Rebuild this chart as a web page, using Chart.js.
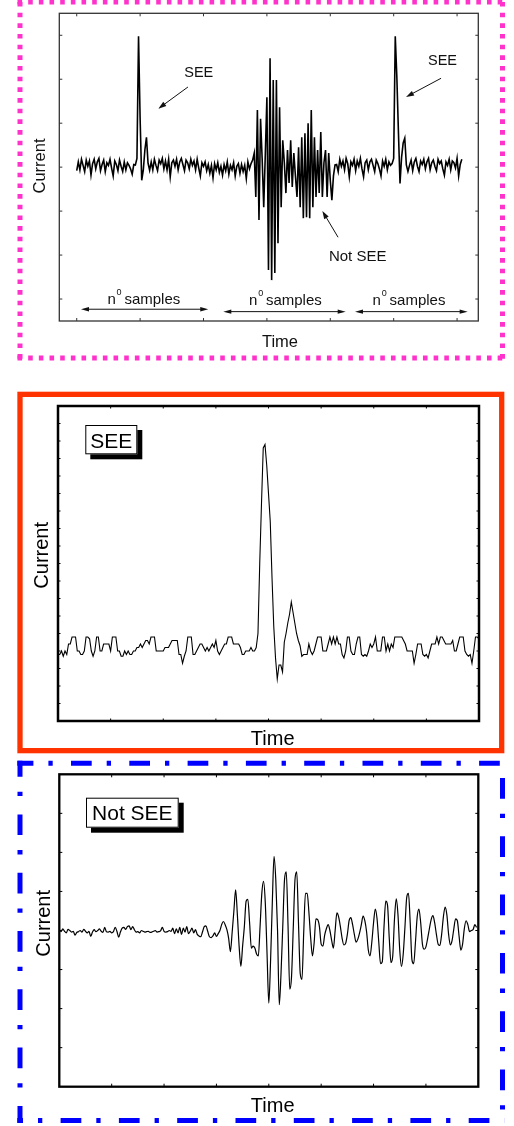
<!DOCTYPE html>
<html><head><meta charset="utf-8">
<script src="https://cdn.jsdelivr.net/npm/chart.js"></script>
<style>
html,body{margin:0;padding:0;background:#fff;}
body{width:514px;height:1126px;position:relative;overflow:hidden;}
canvas{position:absolute;left:0;}
</style></head><body>
<canvas id="c1" width="514" height="372" style="top:0px"></canvas>
<canvas id="c2" width="514" height="384" style="top:372px"></canvas>
<canvas id="c3" width="514" height="370" style="top:756px"></canvas>
<script>
// ================= DATA =================
// Panel 1 (overview trace): baseline = 0, one y tick = 100 units, one x tick = 40 samples
const p1NoiseA = [-8,12,-6,18,4,-10,16,2,14,-18,8,18,-4,12,20,-8,6,16,-10,10,4,18,-2,-20,14,6,-8,16,2,-10,12,-6,10,4,-4,-16,6];
const p1See1 = [5,20,298,110,-30,-7,39,68,9,-7];
const p1NoiseB = [12,-6,18,4,-8,16,8,20,-4,14,-6,18,-22,10,16,2,18,-6,12,20,6,-8,16,10,-4,18,4,14,-6,18,-2,-20,10,2,12,-8,6,-14,4,-24,8,-6,10,-12,2,-18,6,-8,12,-16,4,-6,10,-20,2,8,-14,6,-10,4,-26,12,-4,8];
const p1Burst = [16,32,-68,130,-120,110,20,-91,30,159,-234,248,-257,198,-241,198,-173,136,-91,61,10,-59,39,-36,61,-45,32,-20,-68,45,-91,68,-116,77,-114,100,-116,130,-91,68,-68,39,-59,80,-68,10,39,-68,32,-30,-75,-20,5];
const p1NoiseC = [6,-10,18,2,14,-6,20,8,-22,12,4,18,-8,14,2,20,-4,-22,10,16,-6,12,18,4,-10,16,8,-4,-20,14,2,18,-6,12,4,8];
const p1See2 = [20,298,205,80,-37,23,55,66,5,-10];
const p1NoiseD = [4,16,-8,12,20,2,-10,14,6,18,-4,12,20,-6,10,16,2,-8,18,8,14,-4,-18,12,4,18,-6,14,10,-2,20,-20,6,18];
const p1XTicks = [0,40,80,120,160,200,240];
const p1YTicks = [-300,-200,-100,0,100,200,300];

// Panel 2 (SEE): y units 0..180, one tick = 10; one x tick = 30 samples
const p2NoiseLeft = [38,38,40,37,40,38,44,44,48,48, 48,40,40,38,38,40,48,48,47,40, 37,40,48,48,40,40,44,44,44,44, 40,48,48,48,40,40,37,37,40,38, 40,38,38,40,40,42,42,44,42,44, 46,46,44,48,48,48,40,40,40,40, 40,42,42,42,44,46,46,46,46,38, 38,33,37,40,48,48,48,38,38,40, 42,44,44,42,40,42,40,42,44,42, 46,40,38,40,42,44,44,48,48,48, 44,44,44,44,42,38,38,40,40,40, 42,40,40];
const p2Pulse = [42,50,90,124,156,158,146,130,114,82,54,36,24,32,32,28,45,50,56,61,68,62,56,50,46,43,37];
const p2NoiseRight = [38,38,38,44,40,38,40,44,48,48, 48,40,40,40,44,48,44,48,44,48, 44,44,38,36,40,48,48,40,38,38, 44,48,48,38,37,38,37,40,44,42, 44,48,40,40,40,48,48,40,44,40, 44,42,48,48,48,48,48,46,44,40, 40,40,40,33,38,44,44,44,38,37, 38,36,40,44,44,44,48,44,48,48, 46,44,44,44,44,46,40,40,44,48, 48,48,40,38,37,38,33,40,48,48, 47];
const p2XTicks = [30,60,90,120,150,180,210];
const p2YTicks = [10,20,30,40,50,60,70,80,90,100,110,120,130,140,150,160,170];

// Panel 3 (Not SEE): baseline = 0, one y tick = 100; one x tick = 30 samples
const p3Noise = [2,-3,4,-2,-6,3,0,-4,-2,-12,-5,-3,0,-4,3,-2,-6,-2,-15,-4,2,-3,0,4,-2,-5,8,-3,-4,-2,-6,-3,8,-2,-17,-4,6,8,3,10,12,2,10,2,-4,-3,-6,0,-2,-4,-3,-2,-5,-4,-2,0,-4,-3,-1,8,-2,-4,-3,0,-2,6,-8,4,-6,8,-10,6,-4,10,-8,-2,6,-6,2,-10,-14,-16,-4,10,12,-2,-16,-18,-14,-6];
const p3Burst = [-15,-8,0,15,23,15,2,-20,-54,-5,50,104,40,-40,-92,-40,10,75,80,20,-45,-40,-45,-60,-65,10,95,126,70,-60,-186,-80,70,190,130,2,-190,-110,10,130,150,15,-150,-120,5,130,150,20,-110,-125,-5,95,95,45,-20,-65,-30,30,28,10,-35,-40,-12,5,15,0,-25,-45,0,45,35,10,-20,-37,-33,-10,25,33,15,-10,-30,-22,-6,15,37,25,-3,-50,-65,-30,20,55,30,-30,-85,-80,10,75,65,-20,-82,-65,30,81,40,-50,-92,-60,10,85,95,20,-75,-85,-30,35,55,20,-35,-48,-42,-20,5,28,38,20,-10,-35,-38,-10,35,60,40,-10,-37,-25,5,30,25,-15,-50,-35,5,25,15,-3,0,2,15,8];
const p3XTicks = [30,60,90,120,150,180,210];
const p3YTicks = [-300,-200,-100,0,100,200,300];

// ================= HELPERS =================
const FONT = '"Liberation Sans", Arial, Helvetica, sans-serif';
const p1Series = [].concat(p1NoiseA, p1See1, p1NoiseB, p1Burst, p1NoiseC, p1See2, p1NoiseD);
const p2Series = [].concat(p2NoiseLeft, p2Pulse, p2NoiseRight);
const p3Series = [].concat(p3Noise, p3Burst);
const pts = a => a.map((y, i) => ({x: i, y: y}));

function seg(ctx, x1, y1, x2, y2) { ctx.beginPath(); ctx.moveTo(x1, y1); ctx.lineTo(x2, y2); ctx.stroke(); }

function frameTicks(chart, color, fw, tl, tw, xt, yt) {
  const ctx = chart.ctx, a = chart.chartArea, xs = chart.scales.x, ys = chart.scales.y;
  ctx.save();
  ctx.strokeStyle = color; ctx.lineWidth = tw; ctx.setLineDash([]);
  ctx.beginPath();
  xt.forEach(v => { const p = xs.getPixelForValue(v);
    ctx.moveTo(p, a.top); ctx.lineTo(p, a.top + tl); ctx.moveTo(p, a.bottom); ctx.lineTo(p, a.bottom - tl); });
  yt.forEach(v => { const p = ys.getPixelForValue(v);
    ctx.moveTo(a.left, p); ctx.lineTo(a.left + tl, p); ctx.moveTo(a.right, p); ctx.lineTo(a.right - tl, p); });
  ctx.stroke();
  ctx.lineWidth = fw;
  ctx.strokeRect(a.left, a.top, a.right - a.left, a.bottom - a.top);
  ctx.restore();
}

function vText(ctx, txt, x, y, size) {
  ctx.save(); ctx.translate(x, y); ctx.rotate(-Math.PI / 2);
  ctx.font = size + 'px ' + FONT; ctx.textAlign = 'center'; ctx.textBaseline = 'alphabetic';
  ctx.fillText(txt, 0, 0); ctx.restore();
}
function hText(ctx, txt, x, y, size, align) {
  ctx.font = size + 'px ' + FONT; ctx.textAlign = align || 'center'; ctx.textBaseline = 'alphabetic';
  ctx.fillText(txt, x, y);
}
function arrowHead(ctx, x1, y1, x2, y2, len, hw) {
  const ang = Math.atan2(y2 - y1, x2 - x1), c = Math.cos(ang), s = Math.sin(ang);
  ctx.beginPath(); ctx.moveTo(x2, y2);
  ctx.lineTo(x2 - len * c + hw * s, y2 - len * s - hw * c);
  ctx.lineTo(x2 - len * c - hw * s, y2 - len * s + hw * c);
  ctx.closePath(); ctx.fill();
}
function arrow(ctx, x1, y1, x2, y2) {
  const ang = Math.atan2(y2 - y1, x2 - x1);
  seg(ctx, x1, y1, x2 - 5 * Math.cos(ang), y2 - 5 * Math.sin(ang));
  arrowHead(ctx, x1, y1, x2, y2, 8, 2.6);
}
function labelBox(ctx, txt, x, y, w, h, size, base) {
  ctx.save();
  ctx.fillStyle = '#000'; ctx.fillRect(x + 5, y + 5, w, h);
  ctx.fillStyle = '#fff'; ctx.fillRect(x, y, w, h);
  ctx.strokeStyle = '#000'; ctx.lineWidth = 1; ctx.strokeRect(x + 0.5, y + 0.5, w - 1, h - 1);
  ctx.fillStyle = '#000'; hText(ctx, txt, x + w / 2, base, size);
  ctx.restore();
}

function makeChart(id, series, xr, yr, pad, lw, mode, plugin) {
  return new Chart(document.getElementById(id), {
    type: 'line',
    data: { datasets: [{ data: pts(series), borderColor: '#000', borderWidth: lw, pointRadius: 0,
      fill: false, tension: 0, cubicInterpolationMode: mode, borderJoinStyle: 'miter' }] },
    options: {
      responsive: false, animation: false, devicePixelRatio: 1, events: [],
      layout: { padding: pad },
      plugins: { legend: { display: false }, tooltip: { enabled: false } },
      scales: {
        x: { type: 'linear', display: false, min: xr[0], max: xr[1] },
        y: { type: 'linear', display: false, min: yr[0], max: yr[1] }
      }
    },
    plugins: [plugin]
  });
}

// ================= PANEL 1 =================
const p1Plugin = {
  id: 'p1deco',
  beforeDraw(chart) {
    const ctx = chart.ctx;
    ctx.save();
    ctx.fillStyle = '#fff'; ctx.fillRect(0, 0, chart.width, chart.height);
    ctx.strokeStyle = '#ff33cc'; ctx.lineWidth = 5; ctx.lineCap = 'butt';
    ctx.setLineDash([4.6, 6.07]);
    seg(ctx, 17.5, 2, 505, 2); seg(ctx, 17.5, 358, 505, 358);
    seg(ctx, 20, 2, 20, 361); seg(ctx, 502.5, 2, 502.5, 361);
    ctx.restore();
  },
  afterDraw(chart) {
    frameTicks(chart, '#333', 1.3, 3, 1, p1XTicks, p1YTicks);
    const ctx = chart.ctx, X = v => chart.scales.x.getPixelForValue(v), Y = v => chart.scales.y.getPixelForValue(v);
    ctx.save();
    ctx.fillStyle = '#111'; ctx.strokeStyle = '#111'; ctx.lineWidth = 1;
    vText(ctx, 'Current', 45, 166, 16.5);
    hText(ctx, 'Time', 280, 346.5, 16.5);
    // annotations (data coordinates)
    hText(ctx, 'SEE', X(77), Y(205), 14.5);
    arrow(ctx, X(70.2), Y(182.4), X(51.5), Y(133.1));
    hText(ctx, 'SEE', X(230.8), Y(231.4), 14.5);
    arrow(ctx, X(229.9), Y(202.2), X(207.8), Y(159.7));
    hText(ctx, 'Not SEE', X(177.3), Y(-214.5), 15);
    arrow(ctx, X(164.9), Y(-159.5), X(155.0), Y(-99.6));
    // n0 samples labels with double arrows
    const lab = (sx, vy) => {
      const x = X(sx), y = Y(vy);
      ctx.font = '15px ' + FONT; ctx.textAlign = 'left';
      ctx.fillText('n', x, y); const wn = ctx.measureText('n').width;
      ctx.font = '9px ' + FONT; ctx.fillText('0', x + wn + 0.8, y - 9);
      const w0 = ctx.measureText('0').width;
      ctx.font = '15px ' + FONT; ctx.fillText('samples', x + wn + w0 + 3.6, y);
    };
    lab(19.4, -310.7); lab(108.7, -314.2); lab(186.7, -314.2);
    const dbl = (s1, s2, v) => {
      const x1 = X(s1), x2 = X(s2), y = Y(v);
      seg(ctx, x1 + 4, y, x2 - 4, y);
      arrowHead(ctx, x2, y, x1, y, 8, 2.2);
      arrowHead(ctx, x1, y, x2, y, 8, 2.2);
    };
    dbl(2.7, 83.0, -323.2); dbl(92.5, 169.7, -328.7); dbl(175.6, 246.7, -328.7);
    ctx.restore();
  }
};
makeChart('c1', p1Series, [-11, 253.4], [-350, 350], {left: 59.3, top: 13.3, right: 35.7, bottom: 51}, 1.6, 'default', p1Plugin);

// ================= PANEL 2 =================
const p2Plugin = {
  id: 'p2deco',
  beforeDraw(chart) {
    const ctx = chart.ctx;
    ctx.save();
    ctx.fillStyle = '#fff'; ctx.fillRect(0, 0, chart.width, chart.height);
    ctx.strokeStyle = '#ff3300'; ctx.lineWidth = 5.3;
    ctx.strokeRect(20, 22.35, 481.7, 356.3);
    ctx.restore();
  },
  afterDraw(chart) {
    frameTicks(chart, '#000', 2.5, 2.5, 1, p2XTicks, p2YTicks);
    const ctx = chart.ctx;
    ctx.save(); ctx.fillStyle = '#000';
    vText(ctx, 'Current', 47.5, 183.3, 20);
    hText(ctx, 'Time', 272.7, 372.5, 20);
    labelBox(ctx, 'SEE', 85.3, 53, 52, 29.3, 21, 75.7);
    ctx.restore();
  }
};
makeChart('c2', p2Series, [0, 240], [0, 180], {left: 58, top: 34, right: 35, bottom: 35}, 1.1, 'default', p2Plugin);

// ================= PANEL 3 =================
const p3Plugin = {
  id: 'p3deco',
  beforeDraw(chart) {
    const ctx = chart.ctx;
    ctx.save();
    ctx.fillStyle = '#fff'; ctx.fillRect(0, 0, chart.width, chart.height);
    ctx.strokeStyle = '#0000ff'; ctx.lineWidth = 5; ctx.lineCap = 'butt';
    const pat = [20.7, 15, 4.3, 18.3];
    ctx.setLineDash(pat);
    ctx.lineDashOffset = 4.6; seg(ctx, 17.3, 7.2, 504.5, 7.2);
    ctx.lineDashOffset = 41; seg(ctx, 502.5, 4.7, 502.5, 366.7);
    ctx.lineDashOffset = 15; seg(ctx, 17.3, 364.5, 504.5, 364.5);
    ctx.lineDashOffset = 4.6; seg(ctx, 20, 4.7, 20, 366.7);
    ctx.restore();
  },
  afterDraw(chart) {
    frameTicks(chart, '#000', 2.3, 3, 1, p3XTicks, p3YTicks);
    const ctx = chart.ctx;
    ctx.save(); ctx.fillStyle = '#000';
    vText(ctx, 'Current', 49.5, 167.3, 20);
    hText(ctx, 'Time', 272.7, 356, 20);
    labelBox(ctx, 'Not SEE', 86, 41.7, 92.7, 30, 21, 64.3);
    ctx.restore();
  }
};
makeChart('c3', p3Series, [0, 240], [-400, 400], {left: 59.3, top: 18.3, right: 35.7, bottom: 39.3}, 1.2, 'monotone', p3Plugin);
</script>
</body></html>
